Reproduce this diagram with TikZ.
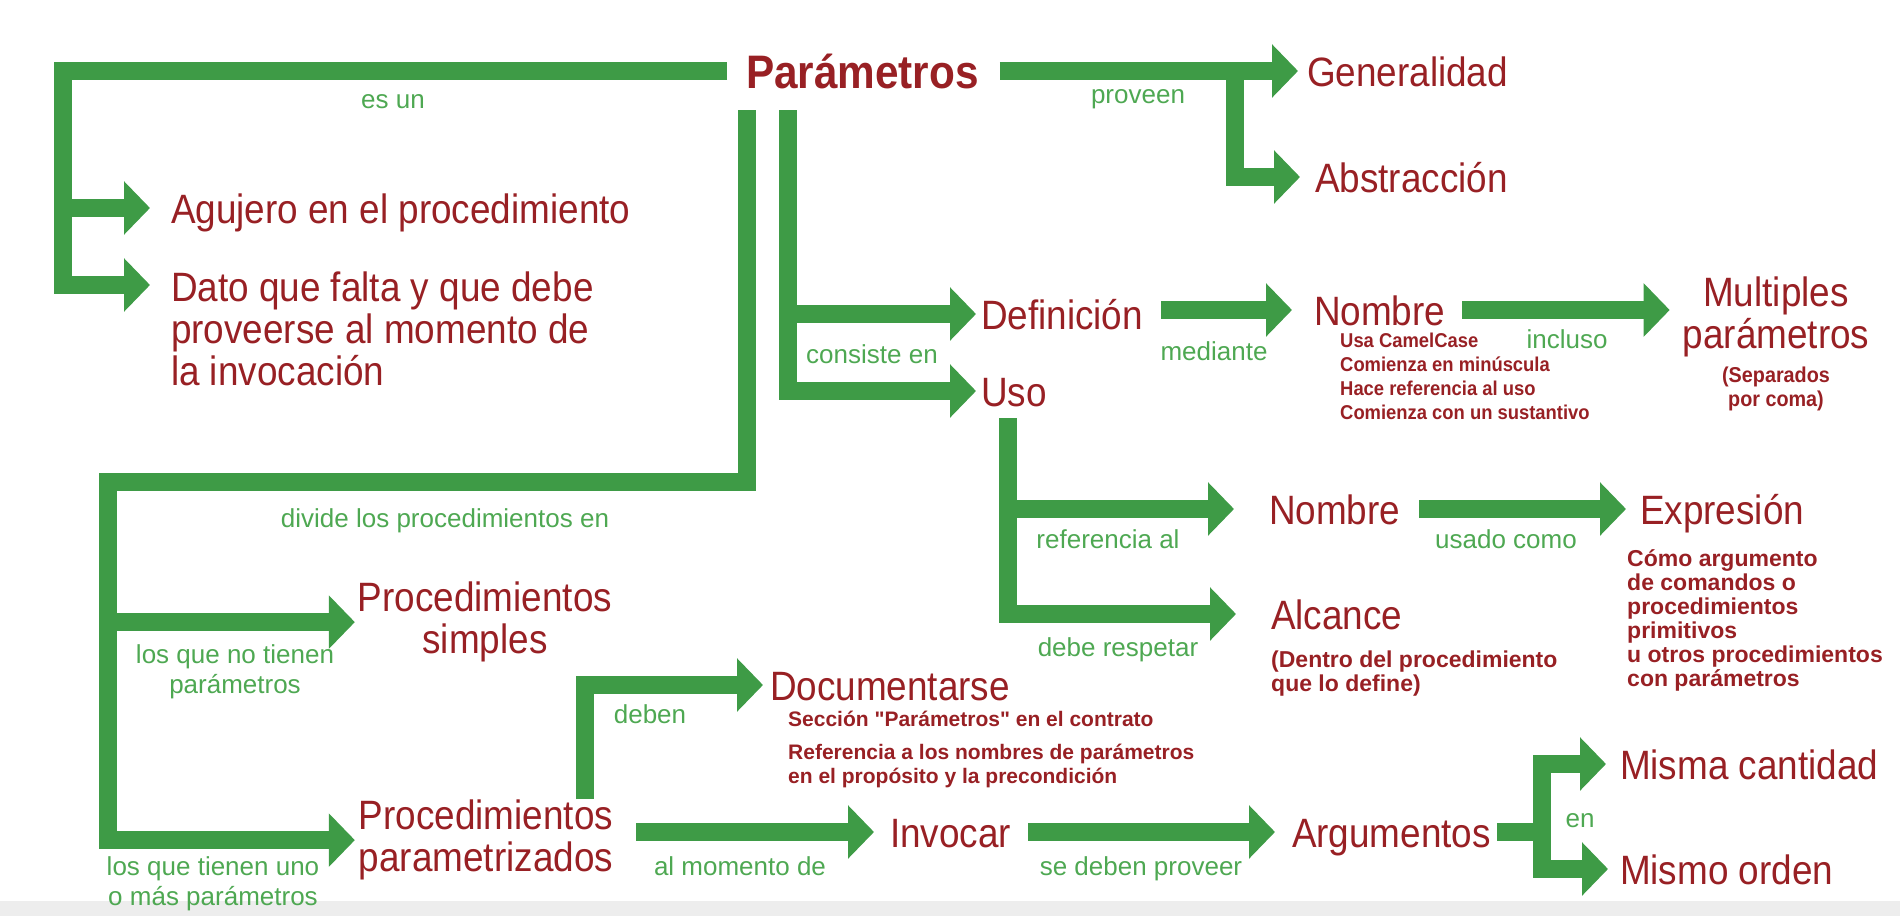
\documentclass[tikz,border=0pt]{standalone}
\usepackage{fontspec}
\setmainfont{Liberation Sans}
\newfontfamily\rojofont{Liberation Sans}[FakeStretch=0.9]
\newfontfamily\notafont{Liberation Sans}[FakeStretch=0.92]
\newfontfamily\notaplana{Liberation Sans}
\usetikzlibrary{arrows.meta}
\definecolor{verde}{RGB}{62,155,70}
\definecolor{rojo}{RGB}{152,32,36}
\definecolor{verdeclaro}{RGB}{78,168,82}

\begin{document}
\begin{tikzpicture}[
    x=1pt, y=-1pt,
    barra/.style={verde, line width=18pt, line join=miter},
    flecha/.style={barra, -{Triangle[width=52pt,length=26pt]}},
    concepto/.style={rojo, inner sep=0pt, outer sep=0pt, anchor=west,
        text height=30pt, text depth=0pt, font=\rojofont\fontsize{41}{42}\selectfont},
    bloque/.style={rojo, inner sep=0pt, outer sep=0pt, font=\rojofont\fontsize{41}{42}\selectfont},
    nota/.style={rojo, inner sep=0pt, anchor=north west, align=left,
        font=\notafont\bfseries\fontsize{20}{24}\selectfont},
    notagrande/.style={nota, font=\notaplana\bfseries\fontsize{23}{24}\selectfont},
    enlace/.style={verdeclaro, inner sep=0pt, anchor=base, align=center,
        font=\fontsize{26}{30}\selectfont}
]
\useasboundingbox (0,0) rectangle (1900,916);
\fill[black!7] (0,901) rectangle (1900,916);

\node[concepto, text height=34pt, font=\rojofont\bfseries\fontsize{47}{50}\selectfont] (param) at (746,71) {Parámetros};
\node[concepto] (aguj) at (171,208) {Agujero en el procedimiento};
\node[bloque, anchor=north west, align=left] (dato) at (171,272) {Dato que falta y que debe\\proveerse al momento de\\la invocación};
\node[concepto] (gen) at (1307,71) {Generalidad};
\node[concepto] (abst) at (1315,177) {Abstracción};
\node[concepto] (defi) at (981,314) {Definición};
\node[concepto] (uso) at (981,391) {Uso};
\node[concepto] (nomA) at (1314,310) {Nombre};
\node[bloque, anchor=north, align=center] (multi) at (1776,277) {Multiples\\parámetros};
\node[concepto] (nomB) at (1269,509) {Nombre};
\node[concepto] (alc) at (1271,614) {Alcance};
\node[concepto] (expr) at (1640,509) {Expresión};
\node[bloque, anchor=north, align=center] (simp) at (485,582) {Procedimientos\\simples};
\node[bloque, anchor=north, align=center] (parz) at (486,800) {Procedimientos\\parametrizados};
\node[concepto] (docu) at (770,685) {Documentarse};
\node[concepto] (invo) at (890,832) {Invocar};
\node[concepto] (argu) at (1292,832) {Argumentos};
\node[concepto] (misma) at (1620,764) {Misma cantidad};
\node[concepto] (mismo) at (1620,869) {Mismo orden};

\node[nota] (notaNom) at (1340,333) {Usa CamelCase\\Comienza en minúscula\\Hace referencia al uso\\Comienza con un sustantivo};
\node[nota, anchor=north, align=center, font=\notafont\bfseries\fontsize{21.5}{24}\selectfont] (notaMul) at (1776,367) {(Separados\\por coma)};
\node[notagrande] (notaExp) at (1627,549) {Cómo argumento\\de comandos o\\procedimientos\\primitivos\\u otros procedimientos\\con parámetros};
\node[notagrande] (notaAlc) at (1271,651) {(Dentro del procedimiento\\que lo define)};
\node[nota, font=\notaplana\bfseries\fontsize{21}{24}\selectfont] (notaDoc) at (788,711) {Sección "Parámetros" en el contrato\\[9pt]Referencia a los nombres de parámetros\\en el propósito y la precondición};

\node[enlace] (esun) at (393,108) {es un};
\node[enlace] (prov) at (1138,103) {proveen};
\node[enlace] (cons) at (872,363) {consiste en};
\node[enlace] (medi) at (1214,360) {mediante};
\node[enlace] (incl) at (1567,348) {incluso};
\node[enlace] (refe) at (1108,548) {referencia al};
\node[enlace] (resp) at (1118,656) {debe respetar};
\node[enlace] (usad) at (1506,548) {usado como};
\node[enlace] (divi) at (445,527) {divide los procedimientos en};
\node[enlace, anchor=north] (sinp) at (235,644) {los que no tienen\\parámetros};
\node[enlace, anchor=north] (conp) at (213,856) {los que tienen uno\\o más parámetros};
\node[enlace] (debe) at (650,723) {deben};
\node[enlace] (almo) at (740,875) {al momento de};
\node[enlace] (sedp) at (1141,875) {se deben proveer};
\node[enlace] (en) at (1580,827) {en};

\coordinate (esJ) at (63,285);
\coordinate (provJ) at (1235,71);
\coordinate (consJ) at (788,110);
\coordinate (divJ) at (747,110);
\coordinate (divL) at (108,482);
\coordinate (usoJ) at (1008,418);
\coordinate (debJ) at (585,799);
\coordinate (enJ) at (1542,832);

\draw[flecha, shorten <=19pt, shorten >=21pt] (param.west) -| (esJ) -- (esJ -| dato.west);
\draw[flecha, shorten >=21pt] (esJ |- aguj.west) -- (aguj.west);
\draw[flecha, shorten <=21pt, shorten >=9pt] (param.east) -- (gen.west);
\draw[flecha, shorten >=15pt] (provJ) |- (abst.west);
\draw[flecha, shorten >=5pt] (consJ) |- (uso.west);
\draw[flecha, shorten >=5pt] (consJ |- defi.west) -- (defi.west);
\draw[flecha, shorten <=18pt, shorten >=22pt] (defi.east |- nomA.west) -- (nomA.west);
\draw[flecha, shorten <=17pt, shorten >=13pt] (nomA.east) -- (nomA.east -| multi.west);
\draw[flecha, shorten >=35pt] (usoJ) |- (alc.west);
\draw[flecha, shorten >=35pt] (usoJ |- nomB.west) -- (nomB.west);
\draw[flecha, shorten <=19pt, shorten >=14pt] (nomB.east) -- (expr.west);
\draw[flecha, shorten >=4pt] (divJ) |- (divL) |- (parz.west);
\draw[flecha, shorten >=3pt] (divL |- simp.west) -- (simp.west);
\draw[flecha, shorten >=7pt] (debJ) |- (docu.west);
\draw[flecha, shorten <=23pt, shorten >=16pt] (parz.east |- invo.west) -- (invo.west);
\draw[flecha, shorten <=17pt, shorten >=17pt] (invo.east) -- (argu.west);
\draw[barra, shorten <=6pt] (argu.east) -- (enJ);
\draw[flecha, shorten >=14pt] (enJ) |- (misma.west);
\draw[flecha, shorten >=12pt] (enJ) |- (mismo.west);
\end{tikzpicture}
\end{document}
